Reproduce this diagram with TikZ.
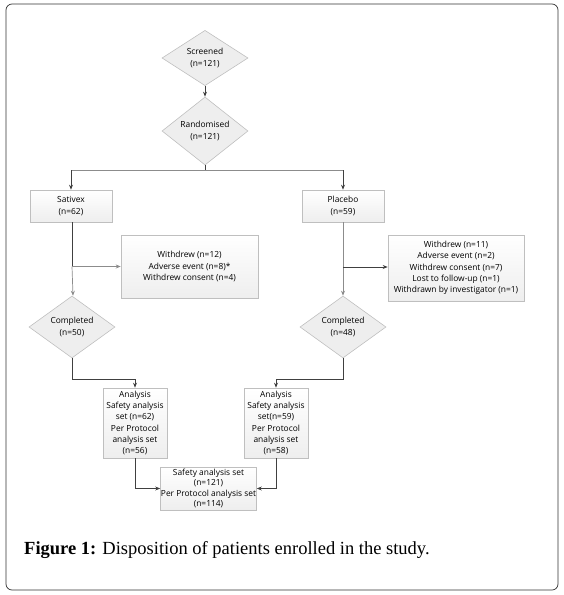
\documentclass[tikz,border=0pt]{standalone}
\usepackage{fontspec}
\newfontfamily\diagfont{Open Sans}
\newfontfamily\capfont{Liberation Serif}
\usetikzlibrary{shapes.geometric,arrows.meta,shadows,calc}
\definecolor{boxline}{HTML}{BFBFBF}
\definecolor{boxfill}{HTML}{EEEEEE}
\definecolor{conn}{HTML}{404040}
\tikzset{
  flowbox/.style={draw=boxline, line width=0.6pt, top color=white, bottom color=boxfill,
    align=center, inner sep=2pt,
    drop shadow={shadow xshift=0.8pt, shadow yshift=-0.8pt, fill=black!25, opacity=0.4}},
  flowdiam/.style={diamond, draw=boxline, line width=0.6pt, fill=boxfill, align=center,
    inner sep=0pt},
  conline/.style={draw=conn, line width=0.7pt},
  conarrow/.style={conline, -{Stealth[length=5pt,width=4pt]}},
}
\begin{document}
\begin{tikzpicture}[x=1pt,y=-1pt, font=\diagfont\fontsize{8.4}{11.3}\selectfont]
\useasboundingbox (0,0) rectangle (564,595);
\draw[rounded corners=6pt, draw=black!80, line width=0.7pt] (6,4) rectangle (558,590);

\node[flowdiam, minimum width=86pt, minimum height=54pt] (scr) at (205,58) {Screened\\(n=121)};
\node[flowdiam, minimum width=86pt, minimum height=50pt] (ran) at (205,131) {Randomised\\(n=121)};

\node[flowbox, minimum width=82pt, minimum height=32pt] (sat) at (71,206) {Sativex\\(n=62)};
\node[flowbox, minimum width=82pt, minimum height=32pt] (pla) at (343,206) {Placebo\\(n=59)};

\node[flowbox, minimum width=137pt, minimum height=63pt] (wds) at (189.5,266.5)
  {Withdrew (n=12)\\Adverse event (n=8)*\\Withdrew consent (n=4)};
\node[flowbox, minimum width=136pt, minimum height=66pt, inner sep=1pt] (wdp) at (456,268)
  {Withdrew (n=11)\\Adverse event (n=2)\\Withdrew consent (n=7)\\Lost to follow-up (n=1)\\Withdrawn by investigator (n=1)};

\node[flowdiam, minimum width=86pt, minimum height=44pt] (cps) at (72,327) {Completed\\(n=50)};
\node[flowdiam, minimum width=86pt, minimum height=44pt] (cpp) at (343,327) {Completed\\(n=48)};

\node[flowbox, minimum width=64pt, minimum height=70pt, inner sep=0.5pt] (ans) at (135,423)
  {Analysis\\Safety analysis\\set (n=62)\\Per Protocol\\analysis set\\(n=56)};
\node[flowbox, minimum width=64pt, minimum height=70pt, inner sep=0.5pt] (anp) at (276,423)
  {Analysis\\Safety analysis\\set(n=59)\\Per Protocol\\analysis set\\(n=58)};

\node[flowbox, minimum width=95pt, minimum height=43pt, inner sep=0.5pt,
  font=\diagfont\fontsize{8.4}{10.6}\selectfont] (fin) at (208.5,488.5)
  {Safety analysis set\\(n=121)\\Per Protocol analysis set\\(n=114)};

% connectors
\draw[conarrow] (scr.south) -- (ran.north);
\coordinate (split) at (205,170);
\coordinate (sL) at (71,170);
\coordinate (sR) at (343,170);
\draw[conline] (ran.south) -- (split);
\draw[conline, draw=black!45] (sL) -- (sR);
\draw[conarrow] (sL) -- (sat.north);
\draw[conarrow] (sR) -- (pla.north);

\coordinate (bs) at ([xshift=1pt]sat.south |- wds.west);
\coordinate (bp) at (pla.south |- 0,267);
\draw[conline] ([xshift=1pt]sat.south) -- (bs);
\draw[conarrow, draw=black!45] (bs) -- ([xshift=1pt]cps.north);
\draw[conarrow, draw=black!45] (bs) -- (wds.west);
\draw[conarrow, draw=black!45] (pla.south) -- (cpp.north);
\draw[conarrow] (bp) -- (wdp.west |- bp);

\draw[conarrow] (cps.south) -- ++(0,21) -| (ans.north);
\draw[conarrow] (cpp.south) -- ++(0,21) -| (anp.north);

\draw[conarrow] (ans.south) |- (fin.west);
\draw[conarrow] (anp.south) |- (fin.east);

\node[anchor=base west, font=\capfont\fontsize{18.5}{22}\selectfont, inner sep=0pt] (cap) at (24,554)
  {\textbf{Figure 1:} Disposition of patients enrolled in the study.};
\end{tikzpicture}
\end{document}
